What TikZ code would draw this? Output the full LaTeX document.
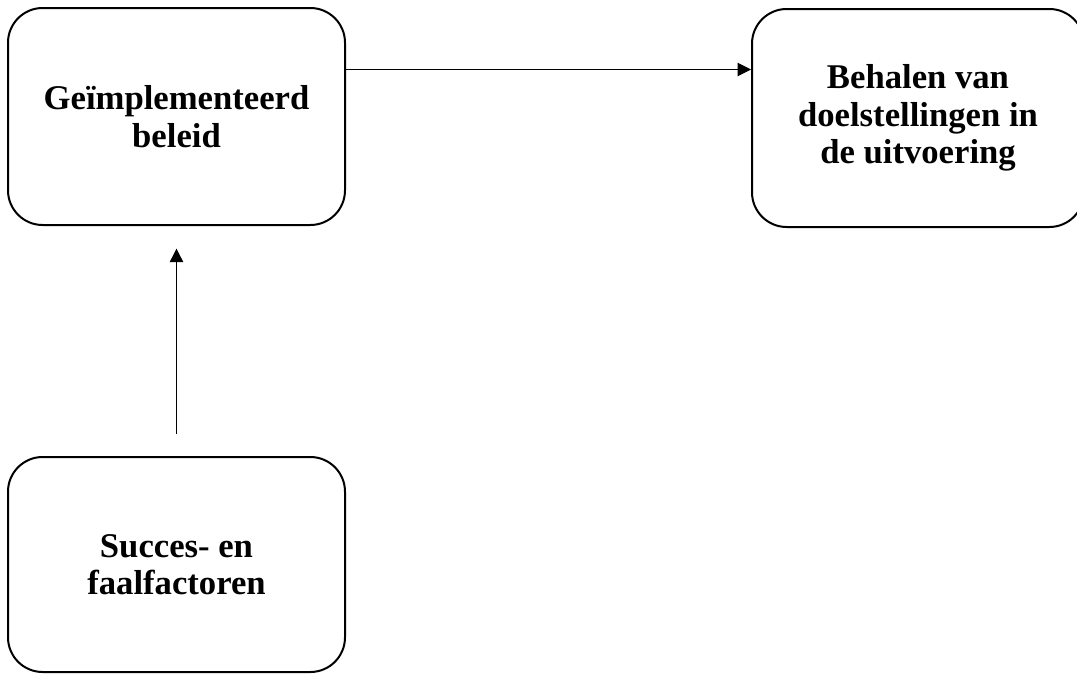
\documentclass[tikz,border=0pt]{standalone}
\usepackage{fontspec}
\setmainfont{Liberation Serif}
\usetikzlibrary{arrows.meta}
\tikzset{
  blok/.style={draw, line width=1.5pt, rounded corners=26pt,
    minimum width=252.75pt, minimum height=162.75pt, align=center,
    font=\bfseries\fontsize{26}{28}\selectfont},
  pijl/.style={line width=0.75pt, -{Triangle[length=10pt,width=10pt]}}
}

\begin{document}
\begin{tikzpicture}[x=0.75pt,y=-0.75pt]
\useasboundingbox (0,0) rectangle (1077,675);

%boxes
\node[blok] (beleid) at (176.5,116.5) {Geïmplementeerd\\beleid};
\node[blok, minimum width=249pt, minimum height=163.5pt] (doelen) at (918,118) {Behalen van\\doelstellingen in\\de uitvoering};
\node[blok, minimum height=161.25pt] (factoren) at (176.5,564.5) {Succes- en\\faalfactoren};

%arrows
\draw[pijl] ([yshift=35.25pt]beleid.east) -- ([yshift=35.25pt]beleid.east -| doelen.west);
\draw[pijl, shorten <=16.5pt, shorten >=17pt] (factoren.north) -- (beleid.south);

\end{tikzpicture}
\end{document}
